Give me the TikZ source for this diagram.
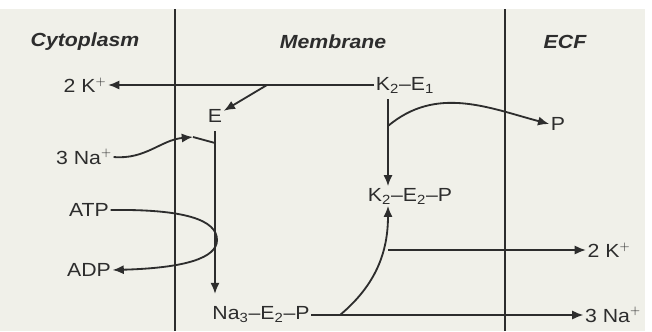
\documentclass[tikz,border=0pt]{standalone}
\usepackage{fontspec}
\setmainfont{Liberation Sans}[FakeStretch=1.12]
\usetikzlibrary{arrows.meta}
\definecolor{bgcol}{RGB}{240,240,233}
\definecolor{inkcol}{RGB}{45,45,45}
\begin{document}
\begin{tikzpicture}[x=0.025cm,y=-0.025cm]
    \tikzset{
        label/.style={text=inkcol, inner sep=1pt, font=\fontsize{13.5}{16}\selectfont},
        head/.style={text=inkcol, font=\fontsize{13.5}{16}\selectfont\bfseries\itshape},
        arc/.style={-{Latex[length=8pt,width=6.5pt]}, draw=inkcol, line width=1.3pt},
        wall/.style={draw=inkcol, line width=1.8pt}
    }
    \useasboundingbox (0,0) rectangle (652,331);
    \fill[white] (0,0) rectangle (652,331);
    \fill[bgcol] (0,9) rectangle (645,331);

    % compartments
    \draw[wall] (175,9) -- (175,331);
    \draw[wall] (505,9) -- (505,331);
    \draw node[head] (cyto) at (85,42) {Cytoplasm};
    \draw node[head] (memb) at (333,42) {Membrane};
    \draw node[head] (ecf) at (565,42) {ECF};

    % species
    \draw node[label] (kin) at (85,85) {2 K$^+$};
    \draw node[label] (ke1) at (405,85) {K\textsubscript{2}–E\textsubscript{1}};
    \draw node[label] (e) at (215,116) {E};
    \draw node[label] (nain) at (84,157) {3 Na$^+$};
    \draw node[label] (atp) at (89,210) {ATP};
    \draw node[label] (adp) at (89,270) {ADP};
    \draw node[label] (ke2p) at (410,196) {K\textsubscript{2}–E\textsubscript{2}–P};
    \draw node[label] (p) at (558,124) {P};
    \draw node[label] (nae2p) at (261,315) {Na\textsubscript{3}–E\textsubscript{2}–P};
    \draw node[label] (kout) at (609,250) {2 K$^+$};
    \draw node[label] (naout) at (613,315) {3 Na$^+$};

    % branch points
    \coordinate (kbr) at (267,85);
    \coordinate (ebar) at (215,131);
    \coordinate (nabar) at (215,143);
    \coordinate (natip) at (193,137);
    \coordinate (kdown) at (388,99);
    \coordinate (pbr) at (388,126);
    \coordinate (kbr2) at (388,250);
    \coordinate (nabr) at (340,315);
    \coordinate (loop) at (217,240);

    \foreach \x/\y in {%
        ke1/kin, kbr/e, nae2p/naout, kbr2/kout%
    }{
        \draw (\x) edge[arc] (\y);
    }

    \draw[arc] (ebar) -- (215,294);
    \draw[arc] (kdown) -- (kdown |- ke2p.north);
    \draw[arc] (nain.east) to[out=-5,in=185] (natip);
    \draw[draw=inkcol, line width=1.3pt] (natip) -- (nabar);
    \draw[arc] (atp.east) .. controls (185,209) and (217,220) .. (loop)
        .. controls (217,258) and (185,268) .. (adp.east);
    \draw[arc] (pbr) to[out=40,in=165] (p.west);
    \draw[arc] (nabr) to[out=40,in=-90] (ke2p.south -| kdown);
\end{tikzpicture}
\end{document}
